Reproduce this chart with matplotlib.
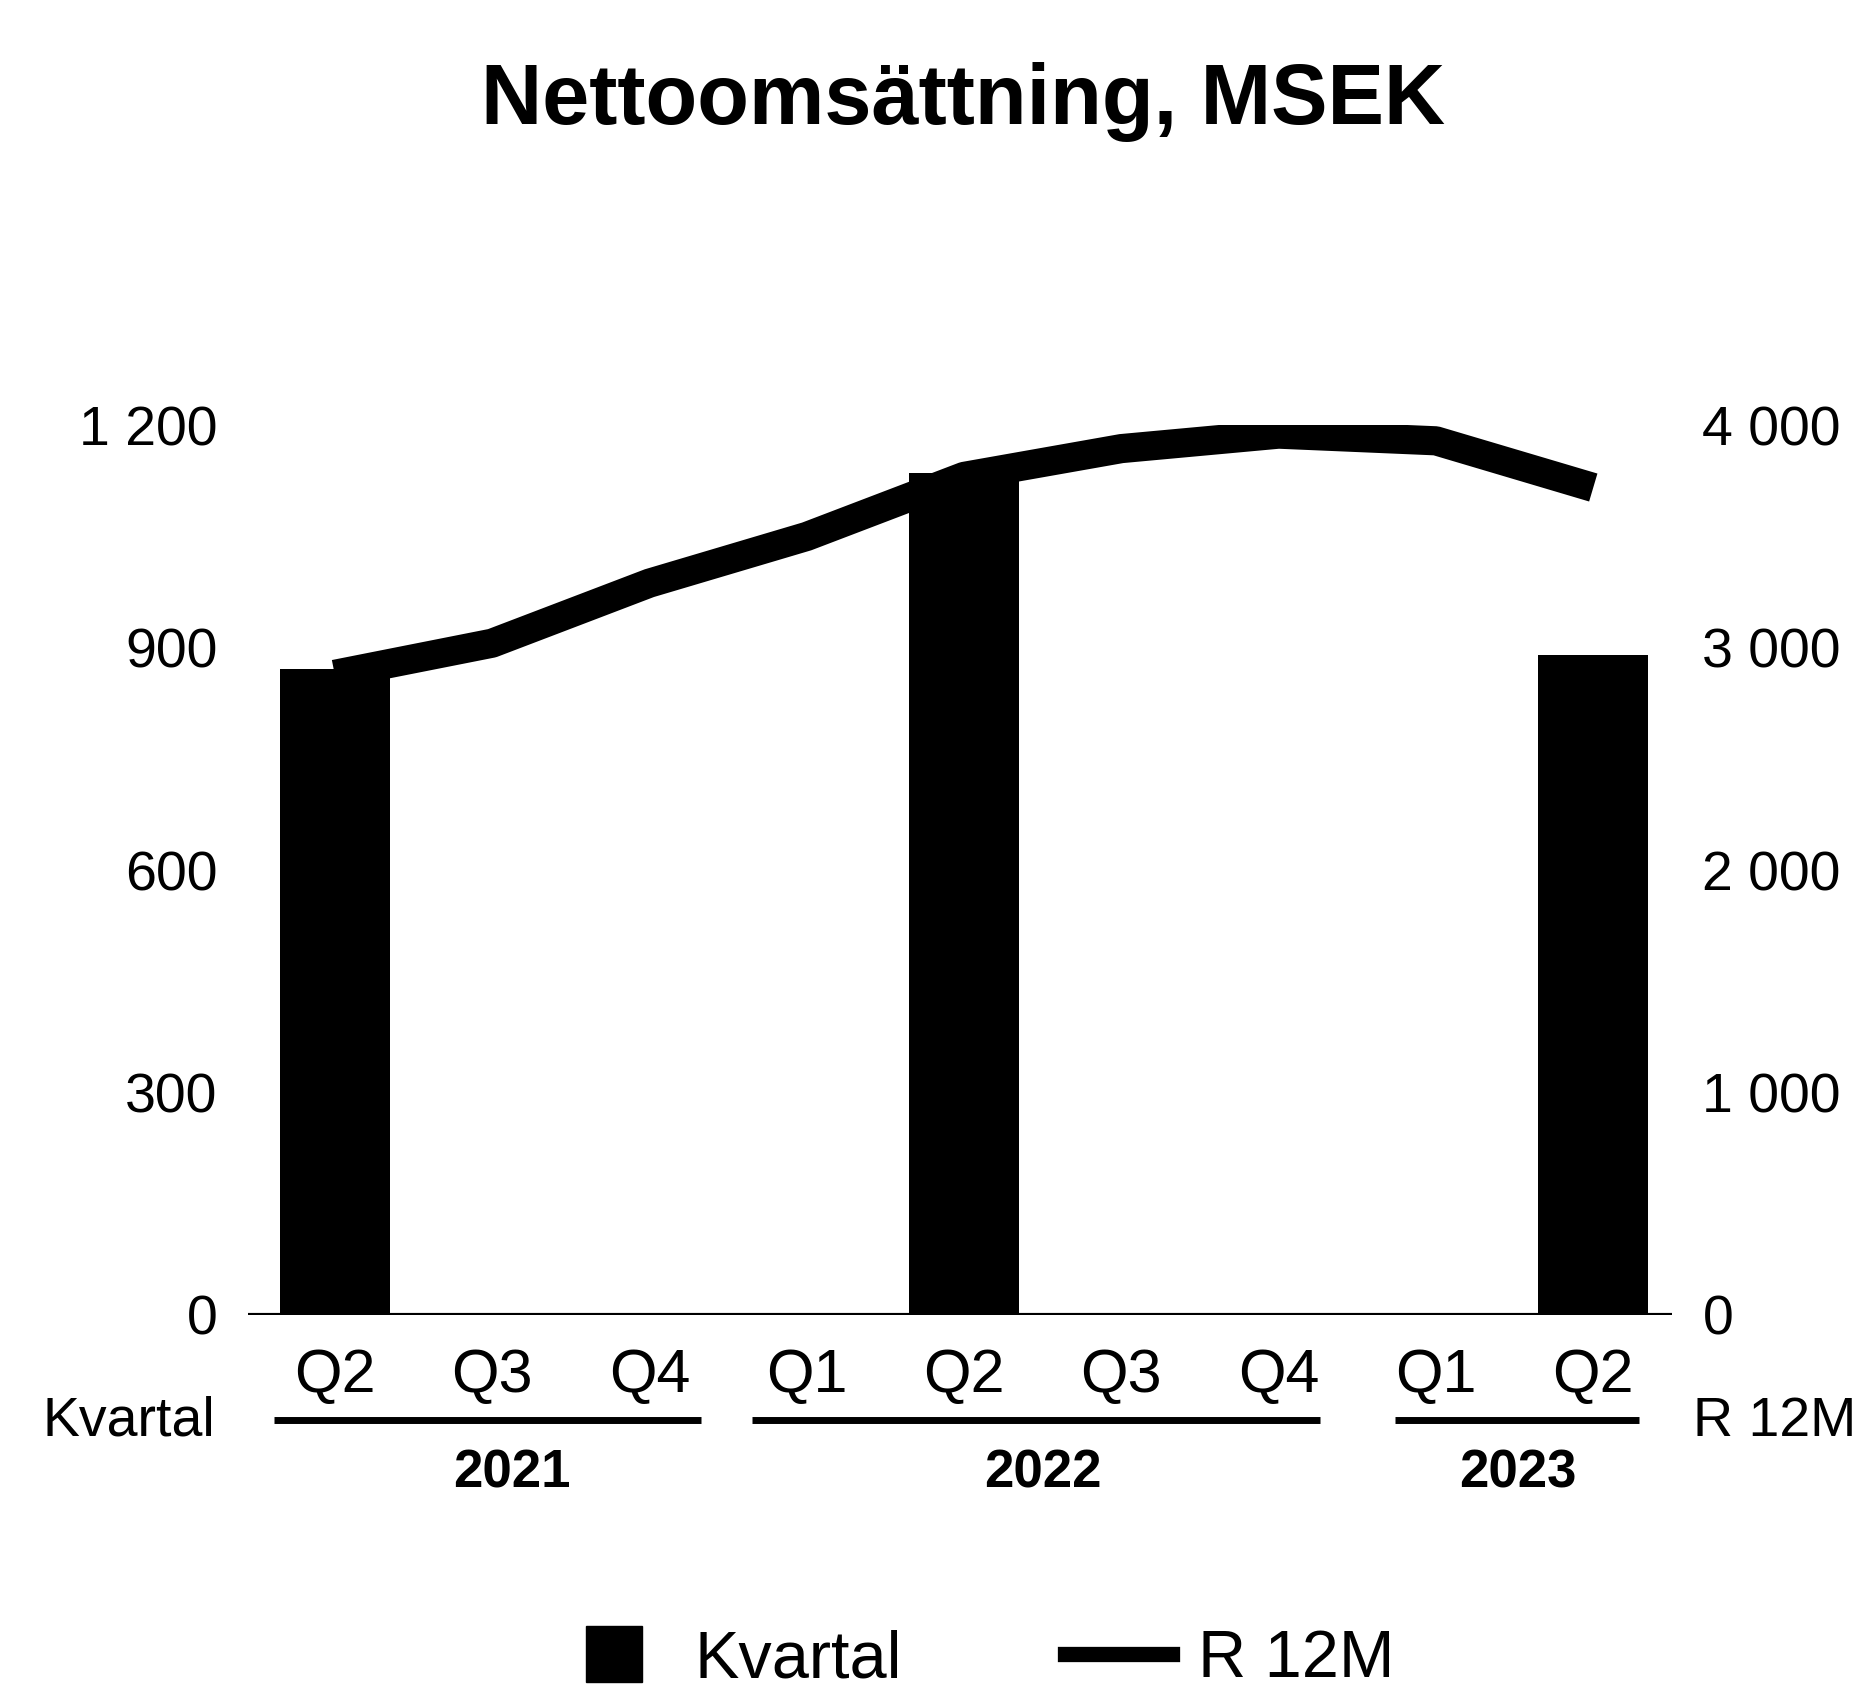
import matplotlib
matplotlib.use("Agg")
import matplotlib.pyplot as plt
from matplotlib.lines import Line2D

plt.rcParams['font.family'] = ['Liberation Sans', 'DejaVu Sans']

# data
quarters = ["Q2", "Q3", "Q4", "Q1", "Q2", "Q3", "Q4", "Q1", "Q2"]
kvartal = [871, None, None, None, 1135, None, None, None, 890]   # MSEK, left axis
r12m = [2880, 3020, 3290, 3500, 3770, 3895, 3960, 3930, 3720]     # MSEK, right axis
years = ["2021", "2022", "2023"]
year_spans = [(0, 2), (3, 6), (7, 8)]

left_ticks = [0, 300, 600, 900, 1200]
left_labels = ["0", "300", "600", "900", "1 200"]
right_ticks = [0, 1000, 2000, 3000, 4000]
right_labels = ["0", "1 000", "2 000", "3 000", "4 000"]

fig = plt.figure(figsize=(18.66, 17.01), dpi=100)
ax = fig.add_axes([0.133, 0.227, 0.763, 0.523])
ax2 = ax.twinx()

x = list(range(len(quarters)))
bx = [i for i, v in zip(x, kvartal) if v is not None]
bv = [v for v in kvartal if v is not None]
ax.bar(bx, bv, width=0.7, color='black', zorder=2)

ax2.plot(x, r12m, color='black', linewidth=21, solid_capstyle='butt',
         solid_joinstyle='round', zorder=3)

ax.set_xlim(-0.55, 8.5)
ax.set_ylim(0, 1200)
ax2.set_ylim(0, 4000)

ax.set_yticks(left_ticks)
ax.set_yticklabels(left_labels, fontsize=40)
ax2.set_yticks(right_ticks)
ax2.set_yticklabels(right_labels, fontsize=40)
ax.tick_params(axis='y', length=0, pad=22)
ax2.tick_params(axis='y', length=0, pad=22)

ax.set_xticks(x)
ax.set_xticklabels(quarters, fontsize=44)
ax.tick_params(axis='x', length=0, pad=24)

for a in (ax, ax2):
    for s in ['top', 'left', 'right', 'bottom']:
        a.spines[s].set_visible(False)
ax.axhline(0, color='black', linewidth=3, zorder=4)
ax2.set_zorder(ax.get_zorder() + 1)
ax2.patch.set_visible(False)

# year groups under the quarter labels
trans = ax.get_xaxis_transform()
line_pad = [(0.385, 0.33), (0.35, 0.26), (0.26, 0.29)]
label_shift = [0.125, 0.0, 0.02]
for yr, (a, b), (pl, pr), sh in zip(years, year_spans, line_pad, label_shift):
    ax.plot([a - pl, b + pr], [-0.118, -0.118], color='black', linewidth=5,
            transform=trans, clip_on=False, solid_capstyle='butt')
    ax.text((a + b) / 2 + sh, -0.178, yr, transform=trans,
            ha='center', va='center', fontsize=38, fontweight='bold')

ax.text(-0.084, -0.12, "Kvartal", transform=ax.transAxes, ha='center', va='center', fontsize=40)
ax.text(1.072, -0.12, "R 12M", transform=ax.transAxes, ha='center', va='center', fontsize=40)

fig.text(0.516, 0.94, "Nettoomsättning, MSEK", ha='center', va='center',
         fontsize=61, fontweight='bold')

handles = [Line2D([], [], marker='s', markersize=40, linestyle='none', color='black'),
           Line2D([], [], color='black', linewidth=11)]
fig.legend(handles, ["Kvartal", "R 12M"], loc='center', bbox_to_anchor=(0.524, 0.024),
           ncol=2, frameon=False, fontsize=48, handlelength=1.6,
           columnspacing=2.45, handletextpad=0.4)

fig.savefig("out.png", dpi=100)
